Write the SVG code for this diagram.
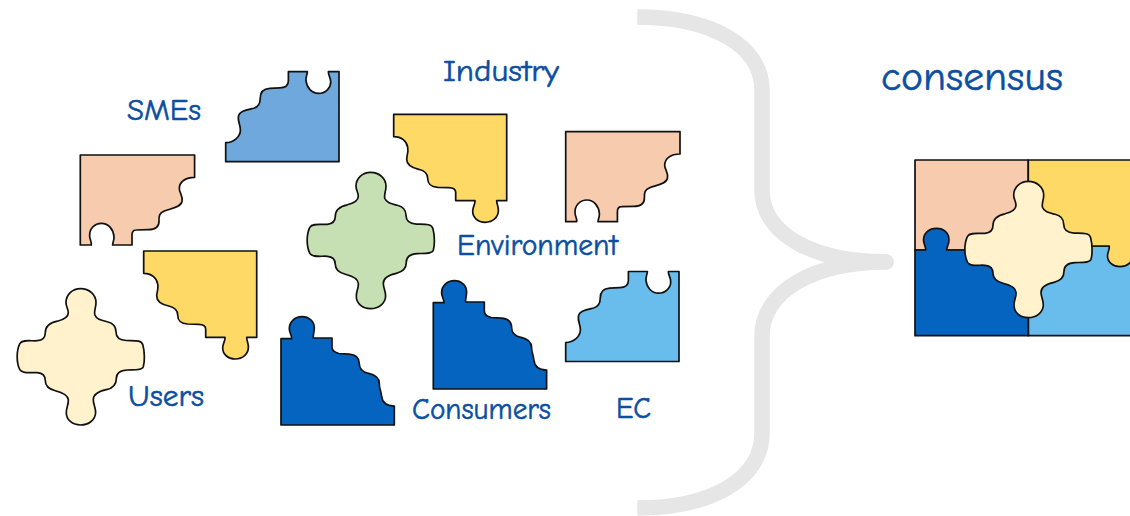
<svg xmlns="http://www.w3.org/2000/svg" width="1130" height="516" viewBox="0 0 1130 516">
<style>
.o{stroke:#111;stroke-width:1.7;stroke-linejoin:round}
.t{font-family:"Comic Sans MS","Comic Neue","DejaVu Sans",sans-serif;fill:#0b4ea2;stroke:#0b4ea2;stroke-width:.55;font-size:30px}
.peach{fill:#f7cbae}.yellow{fill:#ffd966}.mid{fill:#6fa8dc}.sky{fill:#69bded}.dark{fill:#0664c1}.green{fill:#c6e0b4}.cream{fill:#fff2cc}
</style>
<defs>
<path id="pa" class="o" d="M0 0H114.3V22.3C105 22.3 99 27 99 33.5C99 38 103 41 101.7 46.5C100 53 90 53.5 84 56C79 58 78.5 61 78.7 66C79 72 75 74.5 68 74.7L56 75C52.5 75 51.7 77 51.7 80V90H32.3C32.5 87 34 85 33.7 81.7C33 74 28 68.3 21.3 68.3C14 68.3 9 74 9.3 81C9.5 85 11.5 87 11 90H0Z"/>
<path id="pb" class="o" d="M0 0H113V86.3H103C103 90 104.7 92 104.7 96C104.7 103 99 108 91.5 108C84 108 79 103 79 97C79 92 81.5 91 81.3 86.3H62V78C62 74.5 59 73.5 55 73.3L44 73C37 72.5 34 70 34 64C34 59.5 31 56.5 25 55C18 53.5 13 51 13 45C13 41 15 38 14 33C13 27 8 22.3 0 22.3Z"/>
<path id="pc" class="o" d="M113.3 0V90H0V71C8 71 14.7 65 14.7 58.3C14.7 53 12 50 12.7 45C13.5 39 22 38 28 36.5C33 35 34.5 32 34.5 27C34.5 20 38 17 44 16.7L54 16.2C60 16 62.7 14 62.7 9V0H81.7C81.5 3 80 5 80.3 9C81 16 86 21.7 92.7 21.7C100 21.7 105.3 16 105 10C104.8 5 102.5 4 102.7 0Z"/>
<path id="pd" class="o" d="M0 108.3V22H10.7C10.7 18 8.3 16 8.3 12C8.3 5 14 0 21 0C28 0 33.3 5 33.3 11C33.3 16 32 17 32.3 21.3H51V30C51 34.5 54 36 58 36.8L68 37.5C75 38 78.3 41 78.3 47C78.3 52 81 55 87 56.5C94 58 98.3 61 98.3 67C98.3 72 100 74 100.5 79C101 85 105 89.3 113.3 89.3V108.3Z"/>
<path id="pe" class="o" d="M63.3 0C72 0 78.7 6 78.7 14C78.7 19 76.5 22 77.5 26C79 30.5 84 31.5 90 33C96 34.5 98.7 38 98.7 43C98.7 48 102 51.5 109 51.8C116 52.2 124 51 125.5 56C127.5 63 127.5 73 126 78C124.5 82 116 81 110 81.3C102 81.7 99 85 99 90C99 96 96 99.5 89 101C82 102.5 76 105 76 111C76 116 78.5 119 78.3 124C78 131 71.5 136.3 63.3 136.3C55 136.3 49 131 49 124C49 118 51.5 116 51 111C50.5 105.5 44 103.5 38 102C32 100.5 28 97.5 28 92C28 87 26 84.5 20 84C14 83.5 5 85.5 2.5 81C-1 74 -1 62 2.5 55C5 50.5 14 52.5 20 52C26 51.5 28 48.5 28 44C28 37.5 33 34 40 32.5C46 31 51 29 51 24C51 20 48.7 18 48.7 14C48.7 6 55 0 63.3 0Z"/>
</defs>
<g id="brace"><path d="M637.3 17C710 17 762 45 762 90V190C762 235 815 262 886 262C815 262 762 290 762 337V433C762 480 710 508 637.3 508" fill="none" stroke="#e6e6e6" stroke-width="15.5" stroke-linejoin="round"/><circle cx="886" cy="262" r="7.75" fill="#e6e6e6"/></g>
<g id="piece-smes-blue"><use href="#pc" class="mid" x="225.7" y="71.7"/></g>
<g id="piece-peach-left"><use href="#pa" class="peach" x="80.3" y="155"/></g>
<g id="piece-yellow-left"><use href="#pb" class="yellow" x="143.7" y="251"/></g>
<g id="piece-users"><use href="#pe" class="cream" x="17.3" y="288.7"/></g>
<g id="piece-dark-left"><use href="#pd" class="dark" x="281" y="316.7"/></g>
<g id="piece-yellow-industry"><use href="#pb" class="yellow" x="393.7" y="114.3"/></g>
<g id="piece-peach-right"><use href="#pa" class="peach" x="565.7" y="131.7"/></g>
<g id="piece-environment"><use href="#pe" class="green" x="307.3" y="172.3"/></g>
<g id="piece-consumers"><use href="#pd" class="dark" x="433.3" y="280.7"/></g>
<g id="piece-ec"><use href="#pc" class="sky" x="565.7" y="271.5"/></g>
<g id="consensus-puzzle">
<path class="o peach" d="M915 160H1028.3V250H915Z"/>
<path class="o sky" d="M1028.3 246H1145V335.7H1028.3Z"/>
<path class="o yellow" d="M1028.3 160H1145V246H1131C1131 250 1132.7 252 1132.7 256C1132.7 262 1127 266.7 1120 266.7C1113 266.7 1107.5 262 1107.5 256C1107.5 252 1109.5 250 1109.3 246H1028.3Z"/>
<path class="o dark" d="M915 335.7V250H925.7C925.7 246 923.5 244 923.5 240C923.5 233 929 228.3 936.5 228.3C944 228.3 949 233 949 240C949 244 947 246 946.7 250H1028.3V335.7Z"/>
<use href="#pe" class="cream" x="965" y="181.3"/>
</g>
<g id="labels">
<text class="t" x="127" y="120" textLength="74" lengthAdjust="spacingAndGlyphs">SMEs</text>
<text class="t" x="443" y="81" textLength="116" lengthAdjust="spacingAndGlyphs">Industry</text>
<text class="t" x="457" y="255" textLength="161" lengthAdjust="spacingAndGlyphs">Environment</text>
<text class="t" x="128" y="406" textLength="76" lengthAdjust="spacingAndGlyphs">Users</text>
<text class="t" x="412" y="419" textLength="139" lengthAdjust="spacingAndGlyphs">Consumers</text>
<text class="t" x="616" y="418" textLength="35" lengthAdjust="spacingAndGlyphs">EC</text>
<text class="t" x="881" y="90" textLength="182" lengthAdjust="spacingAndGlyphs" style="font-size:41px">consensus</text>
</g>
</svg>
